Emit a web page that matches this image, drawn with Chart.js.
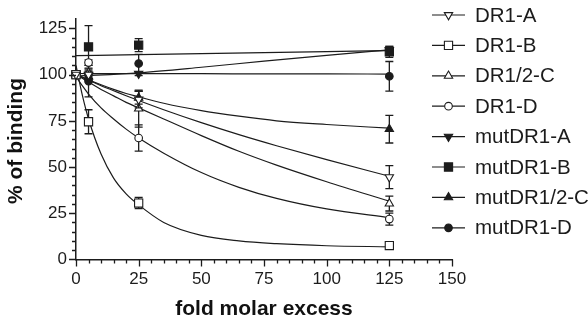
<!DOCTYPE html>
<html>
<head>
<meta charset="utf-8">
<script src="https://cdn.jsdelivr.net/npm/chart.js@4.4.0/dist/chart.umd.min.js"></script>
<style>
  html, body { margin: 0; padding: 0; background: #fff; }
  #wrap { width: 588px; height: 320px; }
</style>
</head>
<body>
<div id="wrap"><canvas id="chart" width="588" height="320"></canvas></div>
<script>
    "use strict";

    // Measured points (fold molar excess)
    var doses = [0, 5, 25, 125];

    var dr1A = [100, 100, 86.5, 44.5];
    var dr1AErr = [0, 2, 4.5, 6.2];
    var dr1B = [100, 74.5, 30.5, 7.5];
    var dr1BErr = [0, 6.5, 3, 1.5];
    var dr12C = [100, 101, 81.6, 30.2];
    var dr12CErr = [0, 2, 10, 4];
    var dr1D = [100, 106.5, 65.7, 21.8];
    var dr1DErr = [0, 1.5, 7.1, 3.2];
    var mutDR1A = [100, 99.5, 100.5, 113.3];
    var mutDR1AErr = [0, 2, 1, 2];
    var mutDR1B = [100, 115, 116, 112.3];
    var mutDR1BErr = [0, 11.5, 3.5, 3];
    var mutDR12C = [100, 99, 87.5, 70.5];
    var mutDR12CErr = [0, 2, 3.5, 7.5];
    var mutDR1D = [100, 96.5, 106, 99.1];
    var mutDR1DErr = [0, 8.5, 5, 8];

    // Fitted curves
    var fitX = [0, 2.5, 5, 10, 15, 20, 25, 35, 50, 65, 80, 100, 125];
    var dr1AFit = [100, 98.5, 97, 94, 91.3, 88.6, 86, 81, 74, 67.5, 61.5, 54, 45];
    var dr1BFit = [105, 89, 76, 57, 44, 35.5, 29.5, 20, 13, 10, 8.5, 7.4, 6.8];
    var dr12CFit = [100, 98, 96, 92, 88.5, 85, 82, 76, 67, 58.5, 51, 42, 31.5];
    var dr1DFit = [99, 94, 89.5, 82, 76, 70.5, 65.7, 57.5, 47, 39, 33, 27.3, 22.6];
    var mutDR12CFit = [100, 98.7, 97.2, 94.5, 92, 89.8, 88, 84.5, 80.5, 77.5, 75, 73, 71];
    var mutFitX = [0, 25, 50, 75, 100, 125];
    var mutDR1AFit = [99.2, 101, 104, 107.3, 110.4, 113.4];
    var mutDR1BFit = [110.3, 110.8, 111.4, 111.9, 112.5, 113];
    var mutDR1DFit = [100.6, 100.5, 100.5, 100.4, 100.4, 100.3];

    var xTicks = [0, 25, 50, 75, 100, 125, 150];
    var yTicks = [0, 25, 50, 75, 100, 125];

    var ink = "#1c1c1c";
    var font = "'Liberation Sans', Arial, sans-serif";

    var series = [
        {name: "DR1-A", y: dr1A, err: dr1AErr, fitX: fitX, fit: dr1AFit, style: "triangle", rot: 180, filled: false, r: 4.8},
        {name: "DR1-B", y: dr1B, err: dr1BErr, fitX: fitX, fit: dr1BFit, style: "rect", rot: 0, filled: false, r: 5.8},
        {name: "DR1/2-C", y: dr12C, err: dr12CErr, fitX: fitX, fit: dr12CFit, style: "triangle", rot: 0, filled: false, r: 4.8},
        {name: "DR1-D", y: dr1D, err: dr1DErr, fitX: fitX, fit: dr1DFit, style: "circle", rot: 0, filled: false, r: 3.8},
        {name: "mutDR1-A", y: mutDR1A, err: mutDR1AErr, fitX: mutFitX, fit: mutDR1AFit, style: "triangle", rot: 180, filled: true, r: 4.8},
        {name: "mutDR1-B", y: mutDR1B, err: mutDR1BErr, fitX: mutFitX, fit: mutDR1BFit, style: "rect", rot: 0, filled: true, r: 5.8},
        {name: "mutDR1/2-C", y: mutDR12C, err: mutDR12CErr, fitX: fitX, fit: mutDR12CFit, style: "triangle", rot: 0, filled: true, r: 4.8},
        {name: "mutDR1-D", y: mutDR1D, err: mutDR1DErr, fitX: mutFitX, fit: mutDR1DFit, style: "circle", rot: 0, filled: true, r: 3.8}
    ];

    var datasets = [];
    series.forEach(function (s) {
        datasets.push({
            label: s.name + " fit",
            data: s.fitX.map(function (x, j) { return {x: x, y: s.fit[j]}; }),
            showLine: true,
            borderColor: ink,
            borderWidth: 1.2,
            pointRadius: 0,
            cubicInterpolationMode: "monotone",
            fill: false,
            order: 2
        });
    });
    series.forEach(function (s) {
        datasets.push({
            label: s.name,
            data: doses.map(function (x, j) { return {x: x, y: s.y[j]}; }),
            errors: s.err,
            showLine: false,
            pointStyle: s.style,
            pointRotation: s.rot,
            pointRadius: s.r,
            pointBackgroundColor: s.filled ? ink : "#ffffff",
            pointBorderColor: ink,
            pointBorderWidth: 1.1,
            clip: false,
            order: 1
        });
    });

    // Error bars, drawn just under each marker set
    var errorBars = {
        id: "errorBars",
        beforeDatasetDraw: function (chart, args) {
            var ds = chart.data.datasets[args.index];
            if (!ds.errors) return;
            var ctx = chart.ctx, xs = chart.scales.x, ys = chart.scales.y;
            ctx.save();
            ctx.strokeStyle = ink;
            ctx.lineWidth = 1.3;
            ds.data.forEach(function (p, j) {
                var e = ds.errors[j];
                if (!e) return;
                var px = xs.getPixelForValue(p.x);
                var top = ys.getPixelForValue(p.y + e);
                var bot = ys.getPixelForValue(p.y - e);
                ctx.beginPath();
                ctx.moveTo(px, top); ctx.lineTo(px, bot);
                ctx.moveTo(px - 4, top); ctx.lineTo(px + 4, top);
                ctx.moveTo(px - 4, bot); ctx.lineTo(px + 4, bot);
                ctx.stroke();
            });
            ctx.restore();
        }
    };

    // Major and minor tick marks every 5 units, plus the y title
    var tickMarks = {
        id: "tickMarks",
        afterDraw: function (chart) {
            var ctx = chart.ctx, xs = chart.scales.x, ys = chart.scales.y;
            var area = chart.chartArea;
            ctx.save();
            ctx.strokeStyle = ink;
            ctx.lineWidth = 1.3;
            ctx.beginPath();
            for (var v = 0; v <= 150; v += 5) {
                var px = Math.round(xs.getPixelForValue(v)) + 0.5;
                var len = v % 25 === 0 ? 7 : 4;
                ctx.moveTo(px, area.bottom); ctx.lineTo(px, area.bottom + len);
            }
            for (var w = 0; w <= 125; w += 5) {
                var py = Math.round(ys.getPixelForValue(w)) + 0.5;
                var l2 = w % 25 === 0 ? 7 : 4;
                ctx.moveTo(area.left, py); ctx.lineTo(area.left - l2, py);
            }
            ctx.stroke();

            ctx.translate(16, 141);
            ctx.rotate(-Math.PI / 2);
            ctx.fillStyle = "#111";
            ctx.font = "bold 21px " + font;
            ctx.textAlign = "center";
            ctx.textBaseline = "middle";
            ctx.fillText("% of binding", 0, 0);
            ctx.restore();
        }
    };

    // Legend on the right: line, marker, name
    var sideLegend = {
        id: "sideLegend",
        afterDraw: function (chart) {
            var ctx = chart.ctx;
            ctx.save();
            series.forEach(function (s, i) {
                var y = 15 + 30.4 * i;
                ctx.strokeStyle = ink;
                ctx.lineWidth = 1.2;
                ctx.beginPath();
                ctx.moveTo(432, y); ctx.lineTo(465, y);
                ctx.stroke();
                ctx.fillStyle = s.filled ? ink : "#ffffff";
                ctx.lineWidth = 1.1;
                Chart.helpers.drawPoint(ctx, {pointStyle: s.style, rotation: s.rot, radius: s.r, borderWidth: 1.1}, 448.5, y);
                ctx.fillStyle = ink;
                ctx.font = "20.5px " + font;
                ctx.textBaseline = "middle";
                ctx.fillText(s.name, 475, y + 1);
            });
            ctx.restore();
        }
    };

    var ctx1 = document.getElementById("chart").getContext("2d");
    var myChart = new Chart(ctx1, {
        type: "scatter",
        data: {datasets: datasets},
        plugins: [errorBars, tickMarks, sideLegend],
        options: {
            responsive: false,
            animation: false,
            layout: {padding: {top: 8, right: 136, left: 0, bottom: 0}},
            plugins: {legend: {display: false}, tooltip: {enabled: false}},
            scales: {
                x: {
                    type: "linear",
                    min: 0,
                    max: 150,
                    afterBuildTicks: function (axis) {
                        axis.ticks = xTicks.map(function (v) { return {value: v}; });
                    },
                    afterFit: function (axis) { axis.height = 60.6; },
                    grid: {display: false, drawTicks: false},
                    border: {color: ink, width: 1.5},
                    ticks: {
                        padding: 10,
                        color: ink,
                        font: {family: font, size: 17}
                    },
                    title: {
                        display: true,
                        text: "fold molar excess",
                        color: "#111",
                        font: {family: font, size: 21, weight: "bold", lineHeight: 1},
                        padding: 0
                    }
                },
                y: {
                    min: 0,
                    max: 130,
                    afterBuildTicks: function (axis) {
                        axis.ticks = yTicks.map(function (v) { return {value: v}; });
                    },
                    afterFit: function (axis) { axis.width = 76; },
                    grid: {display: false, drawTicks: false},
                    border: {color: ink, width: 1.5},
                    ticks: {
                        padding: 9,
                        color: ink,
                        font: {family: font, size: 17}
                    }
                }
            }
        }
    });
</script>
</body>
</html>
